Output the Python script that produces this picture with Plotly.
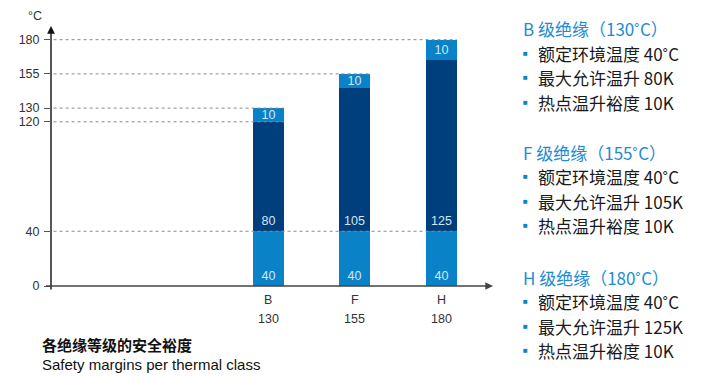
import plotly.graph_objects as go

# ---- data ----
classes = ["B", "F", "H"]
class_limits = [130, 155, 180]
ambient = [40, 40, 40]
rise = [80, 105, 125]
hot_margin = [10, 10, 10]
y_ticks = [0, 40, 120, 130, 155, 180]
grid_levels = [40, 120, 130, 155, 180]
unit_label = "°C"
caption_cn = "各绝缘等级的安全裕度"
caption_en = "Safety margins per thermal class"
legend_titles = ["B 级绝缘（130˚C）", "F 级绝缘（155˚C）", "H 级绝缘（180˚C）"]
legend_items = [
    ["额定环境温度 40˚C", "最大允许温升 80K", "热点温升裕度 10K"],
    ["额定环境温度 40˚C", "最大允许温升 105K", "热点温升裕度 10K"],
    ["额定环境温度 40˚C", "最大允许温升 125K", "热点温升裕度 10K"],
]

LIGHT = "#0A82C8"
DARK = "#003F7D"
TXT_IN = "#D3E6F4"
FONT = "Liberation Sans, Arial, sans-serif"
CJK = "Noto Sans CJK SC, sans-serif"

OFF = 8  # page body margin
W, H = 706 - OFF, 377 - OFF
ML, MT = 51 - OFF, 26 - OFF
MR = 706 - 493
MB = 377 - 286
XR = [-2.51, 2.6]
YR = [0, 190]
BW = 0.36

xs = list(range(len(classes)))
# top segment fills up to the class limit; labelled with the hot-spot margin
top_seg = [lim - a - r for lim, a, r in zip(class_limits, ambient, rise)]

fig = go.Figure()
for vals, labels, col, anchor in [(ambient, ambient, LIGHT, "start"), (rise, rise, DARK, "start"),
                                  (top_seg, hot_margin, LIGHT, "middle")]:
    fig.add_trace(go.Bar(
        x=xs, y=vals, width=BW, marker=dict(color=col, line=dict(width=0)),
        text=[str(v) for v in labels], textposition="inside", insidetextanchor=anchor, textangle=0,
        constraintext="none", textfont=dict(color=TXT_IN, size=12.5, family=FONT),
        hoverinfo="skip", showlegend=False,
    ))

shapes = []
for lvl in grid_levels:
    if lvl in class_limits:
        last = class_limits.index(lvl)
    elif lvl == ambient[0]:
        last = len(classes) - 1
    else:
        last = [i for i, lim in enumerate(class_limits) if lim >= lvl][0]
    shapes.append(dict(type="line", xref="x", yref="y", x0=XR[0] + 0.03, x1=last + BW / 2,
                       y0=lvl, y1=lvl, line=dict(color="#8a8a8a", width=1, dash="dot"), layer="above"))

pw, ph = W - ML - MR, H - MT - MB
def px(xp):
    return (xp - OFF - ML) / pw
def py(yp):
    return (H - MB - (yp - OFF)) / ph

annotations = []
annotations.append(dict(x=XR[0], y=YR[1], ax=XR[0], ay=-3.6, xref="x", yref="y", axref="x", ayref="y",
                        text="", showarrow=True, arrowhead=2, arrowsize=1.1, arrowwidth=1.4, arrowcolor="#111"))
annotations.append(dict(x=XR[1], y=0, ax=-2.585, ay=0, xref="x", yref="y", axref="x", ayref="y",
                        text="", showarrow=True, arrowhead=2, arrowsize=1.1, arrowwidth=1.4, arrowcolor="#444"))
annotations.append(dict(x=px(35), y=py(16), xref="paper", yref="paper", xanchor="center", yanchor="middle",
                        text=unit_label, showarrow=False, font=dict(size=12.5, color="#333", family=FONT)))
for i, (c, lim) in enumerate(zip(classes, class_limits)):
    annotations.append(dict(x=i, y=py(300), xref="x", yref="paper", xanchor="center", yanchor="middle",
                            text=c, showarrow=False, font=dict(size=12.5, color="#333", family=FONT)))
    annotations.append(dict(x=i, y=py(319), xref="x", yref="paper", xanchor="center", yanchor="middle",
                            text=str(lim), showarrow=False, font=dict(size=12.5, color="#333", family=FONT)))

annotations.append(dict(x=px(40), y=py(344), xref="paper", yref="paper", xanchor="left", yanchor="middle",
                        text="<b>" + caption_cn + "</b>", showarrow=False, font=dict(size=15, color="#111", family=CJK)))
annotations.append(dict(x=px(40), y=py(364), xref="paper", yref="paper", xanchor="left", yanchor="middle",
                        text=caption_en, showarrow=False, font=dict(size=15, color="#111", family=FONT)))

group_tops = [29, 152, 277]
step = 24.5
for g, (title, items) in enumerate(zip(legend_titles, legend_items)):
    y0 = group_tops[g]
    annotations.append(dict(x=px(521), y=py(y0), xref="paper", yref="paper", xanchor="left", yanchor="middle",
                            text=title, showarrow=False, font=dict(size=17, color="#1E8BD3", family=CJK)))
    for k, item in enumerate(items):
        yy = y0 + step * (k + 1)
        annotations.append(dict(x=px(521), y=py(yy), xref="paper", yref="paper", xanchor="left", yanchor="middle",
                                text="■", showarrow=False, font=dict(size=8, color=LIGHT, family=FONT)))
        annotations.append(dict(x=px(536), y=py(yy), xref="paper", yref="paper", xanchor="left", yanchor="middle",
                                text=item, showarrow=False, font=dict(size=17, color="#1a1a1a", family=CJK)))

fig.update_layout(
    width=W, height=H, margin=dict(l=ML, r=MR, t=MT, b=MB),
    paper_bgcolor="white", plot_bgcolor="white", barmode="stack", bargap=0,
    xaxis=dict(range=XR, showgrid=False, zeroline=False, showline=False, showticklabels=False, ticks=""),
    yaxis=dict(range=YR, showgrid=False, zeroline=False, showline=False, tickvals=y_ticks,
               ticktext=[str(t) for t in y_ticks], ticks="outside", ticklen=6, tickcolor="#555",
               tickfont=dict(size=12.5, color="#333", family=FONT), ticklabelstandoff=2),
    shapes=shapes, annotations=annotations,
)

fig.write_html("out.html")
